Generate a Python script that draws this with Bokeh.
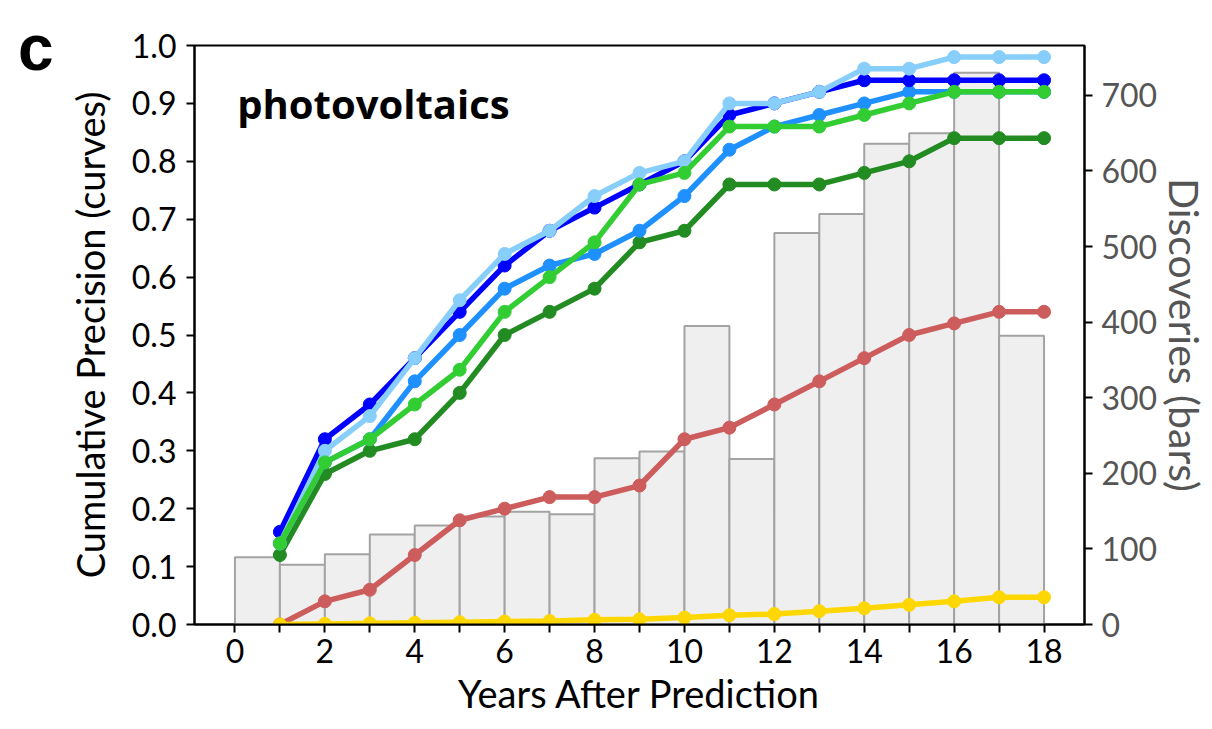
from bokeh.plotting import figure
from bokeh.models import Range1d, LinearAxis, FixedTicker, PrintfTickFormatter, Label
from bokeh.embed import file_html
from bokeh.resources import INLINE

# Years after prediction for the precision curves
years = list(range(1, 19))

# Cumulative precision curves
prec_blue = [0.16, 0.32, 0.38, 0.46, 0.54, 0.62, 0.68, 0.72, 0.76, 0.80,
             0.88, 0.90, 0.92, 0.94, 0.94, 0.94, 0.94, 0.94]
prec_dodger = [0.14, 0.28, 0.32, 0.42, 0.50, 0.58, 0.62, 0.64, 0.68, 0.74,
               0.82, 0.86, 0.88, 0.90, 0.92, 0.92, 0.92, 0.92]
prec_lightsky = [0.14, 0.30, 0.36, 0.46, 0.56, 0.64, 0.68, 0.74, 0.78, 0.80,
                 0.90, 0.90, 0.92, 0.96, 0.96, 0.98, 0.98, 0.98]
prec_lime = [0.14, 0.28, 0.32, 0.38, 0.44, 0.54, 0.60, 0.66, 0.76, 0.78,
             0.86, 0.86, 0.86, 0.88, 0.90, 0.92, 0.92, 0.92]
prec_forest = [0.12, 0.26, 0.30, 0.32, 0.40, 0.50, 0.54, 0.58, 0.66, 0.68,
               0.76, 0.76, 0.76, 0.78, 0.80, 0.84, 0.84, 0.84]
prec_red = [0.00, 0.04, 0.06, 0.12, 0.18, 0.20, 0.22, 0.22, 0.24, 0.32,
            0.34, 0.38, 0.42, 0.46, 0.50, 0.52, 0.54, 0.54]
prec_gold = [0.000, 0.001, 0.002, 0.003, 0.004, 0.005, 0.006, 0.008, 0.009, 0.012,
             0.016, 0.018, 0.023, 0.028, 0.034, 0.040, 0.047, 0.047]

# Discoveries per year (histogram bars, one bin per year starting at 0)
bar_start = list(range(0, 18))
discoveries = [89, 79, 93, 119, 131, 143, 149, 146, 220, 229,
               395, 219, 518, 543, 636, 650, 730, 382]

x_ticks_major = [0, 2, 4, 6, 8, 10, 12, 14, 16, 18]
x_ticks_minor = [1, 3, 5, 7, 9, 11, 13, 15, 17]
y_ticks = [0.0, 0.1, 0.2, 0.3, 0.4, 0.5, 0.6, 0.7, 0.8, 0.9, 1.0]
bar_ticks = [0, 100, 200, 300, 400, 500, 600, 700]

FONT = "Lato"

p = figure(width=1212, height=729, output_backend="svg", toolbar_location=None,
           x_range=Range1d(-0.9, 18.9), y_range=Range1d(0, 1.0),
           min_border_left=194, min_border_right=125,
           min_border_top=45, min_border_bottom=105)
p.extra_y_ranges = {"bars": Range1d(0, 766), "letter": Range1d(0, 100)}
p.xgrid.visible = False
p.ygrid.visible = False
p.outline_line_color = "black"
p.outline_line_width = 2
p.background_fill_color = "white"
p.border_fill_color = "white"

# Histogram of discoveries on the secondary axis
p.quad(left=bar_start, right=[s + 1 for s in bar_start], bottom=0, top=discoveries,
       y_range_name="bars", fill_color="#efefef", line_color="#a3a3a3", line_width=2)

series = [
    (prec_red, "#cd5c5c"),
    (prec_forest, "#228b22"),
    (prec_dodger, "#1e90ff"),
    (prec_blue, "#0000ff"),
    (prec_lightsky, "#87cefa"),
    (prec_lime, "#32cd32"),
    (prec_gold, "#ffd700"),
]
for vals, col in series:
    p.line(years, vals, line_color=col, line_width=5.5)
    p.scatter(years, vals, size=13, fill_color=col, line_color=col)

# Axes styling
def style_axis(ax, color="black"):
    ax.axis_line_color = "black"
    ax.axis_line_width = 2
    ax.major_tick_line_color = "black"
    ax.major_tick_line_width = 2
    ax.major_tick_out = 8
    ax.major_tick_in = 0
    ax.minor_tick_line_color = None
    ax.major_label_text_font = FONT
    ax.major_label_text_font_size = "32px"
    ax.major_label_text_color = color
    ax.axis_label_text_font = FONT
    ax.axis_label_text_font_size = "38px"
    ax.axis_label_text_font_style = "normal"
    ax.axis_label_text_color = color

xa = p.xaxis[0]
style_axis(xa)
xa.ticker = FixedTicker(ticks=x_ticks_major, minor_ticks=x_ticks_minor)
xa.minor_tick_line_color = "black"
xa.minor_tick_line_width = 2
xa.minor_tick_out = 8
xa.minor_tick_in = 0
xa.axis_label = "Years After Prediction"
xa.major_label_standoff = 6
xa.axis_label_standoff = 4

ya = p.yaxis[0]
style_axis(ya)
ya.ticker = FixedTicker(ticks=y_ticks)
ya.formatter = PrintfTickFormatter(format="%.1f")
ya.axis_label = "Cumulative Precision (curves)"
ya.major_label_standoff = 10
ya.axis_label_standoff = 16

ra = LinearAxis(y_range_name="bars")
style_axis(ra, color="#555555")
ra.ticker = FixedTicker(ticks=bar_ticks)
ra.axis_label = "Discoveries (bars)"
ra.axis_label_text_font_size = "41px"
ra.major_label_standoff = 9
ra.axis_label_standoff = 0
p.add_layout(ra, "right")

# Panel letter, drawn as the single label of a bare outer axis
letter_axis = LinearAxis(y_range_name="letter")
letter_axis.ticker = FixedTicker(ticks=[96])
letter_axis.major_label_overrides = {96: "c\n"}
letter_axis.axis_line_color = None
letter_axis.major_tick_line_color = None
letter_axis.minor_tick_line_color = None
letter_axis.major_tick_out = 0
letter_axis.major_label_standoff = 10
letter_axis.major_label_text_font = "Liberation Sans"
letter_axis.major_label_text_font_size = "64px"
letter_axis.major_label_text_font_style = "bold"
letter_axis.major_label_text_color = "black"
p.add_layout(letter_axis, "left")

p.add_layout(Label(x=0.05, y=0.90, text="photovoltaics", text_font="Open Sans",
                   text_font_size="40px", text_font_style="bold",
                   text_color="black", text_baseline="alphabetic"))

open("out.html", "w").write(file_html(p, INLINE))
